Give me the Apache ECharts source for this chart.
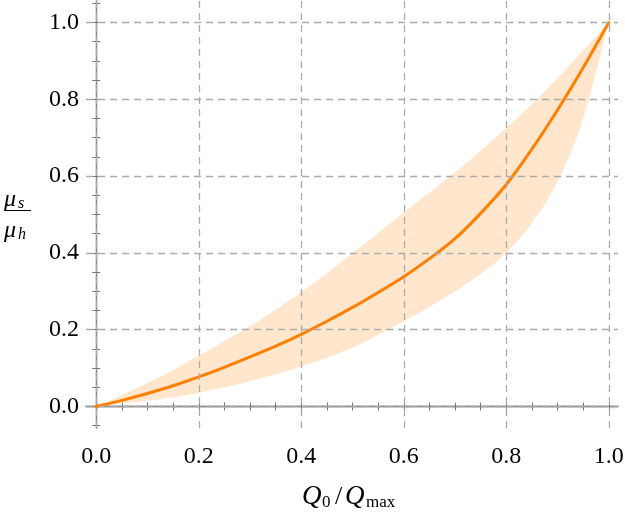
<!DOCTYPE html>
<html>
<head>
<meta charset="utf-8">
<script src="https://cdn.jsdelivr.net/npm/echarts@6/dist/echarts.min.js"></script>
<style>
html, body { margin: 0; padding: 0; background: #fff; }
#char { width: 625px; height: 517px; }
</style>
</head>
<body>
<div id="char"></div>
<script>
// Q0/Qmax vs mu_s/mu_h, centre curve + uncertainty band
const xs     = [0, 0.05, 0.1, 0.15, 0.2, 0.25, 0.3, 0.35, 0.4, 0.45, 0.5, 0.55, 0.6, 0.65, 0.7, 0.75, 0.8, 0.85, 0.9, 0.95, 1];
const centre = [0, 0.016, 0.034, 0.054, 0.077, 0.102, 0.129, 0.157, 0.188, 0.222, 0.258, 0.297, 0.338, 0.385, 0.437, 0.503, 0.578, 0.67, 0.772, 0.882, 1];
const upper  = [0, 0.030, 0.061, 0.095, 0.133, 0.17, 0.209, 0.252, 0.298, 0.347, 0.40, 0.452, 0.505, 0.557, 0.61, 0.666, 0.725, 0.787, 0.855, 0.927, 1];
const lower  = [0, 0.007, 0.015, 0.024, 0.036, 0.05, 0.066, 0.084, 0.104, 0.127, 0.153, 0.187, 0.222, 0.259, 0.30, 0.346, 0.40, 0.478, 0.585, 0.75, 1];

const majorTicks = [0, 0.2, 0.4, 0.6, 0.8, 1.0];
const minorTicksX = [0.05, 0.1, 0.15, 0.25, 0.3, 0.35, 0.45, 0.5, 0.55, 0.65, 0.7, 0.75, 0.85, 0.9, 0.95];
const minorTicksY = [-0.05].concat(minorTicksX, [1.05]);

const serif = '"Liberation Serif", "DejaVu Serif", serif';
const frameColor = '#8c8c8c';

function makeAxis(pos, range, ticks, len, showLine, showLabel) {
    return {
        type: 'value',
        position: pos,
        min: range[0],
        max: range[1],
        axisLine: { show: showLine, lineStyle: { color: frameColor, width: 1.3 } },
        axisTick: { show: true, inside: true, length: len, customValues: ticks,
            lineStyle: { color: '#777', width: 1 } },
        axisLabel: showLabel ? {
            show: true, customValues: ticks, margin: pos === 'bottom' ? 17 : 7,
            fontFamily: serif, fontSize: 24, color: '#000',
            formatter: v => v.toFixed(1)
        } : { show: false },
        splitLine: { show: false }
    };
}

const xRange = [-0.02, 1.018];
const yRange = [-0.056, 1.056];

const charEch = echarts.init(document.getElementById('char'));

const gridLines = majorTicks.map(v => ({ xAxis: v })).concat(majorTicks.map(v => ({ yAxis: v })));

// catmull-rom through pixel points -> bezier path segments
function smoothPath(pts, start) {
    let d = (start ? 'M' : 'L') + pts[0][0] + ' ' + pts[0][1];
    for (let i = 0; i < pts.length - 1; i++) {
        const p0 = pts[i - 1] || pts[i];
        const p1 = pts[i];
        const p2 = pts[i + 1];
        const p3 = pts[i + 2] || p2;
        const c1 = [p1[0] + (p2[0] - p0[0]) / 6, p1[1] + (p2[1] - p0[1]) / 6];
        const c2 = [p2[0] - (p3[0] - p1[0]) / 6, p2[1] - (p3[1] - p1[1]) / 6];
        d += 'C' + c1[0] + ' ' + c1[1] + ' ' + c2[0] + ' ' + c2[1] + ' ' + p2[0] + ' ' + p2[1];
    }
    return d;
}

function renderBand(params, api) {
    const up = xs.map((x, i) => api.coord([x, upper[i]]));
    const lo = xs.map((x, i) => api.coord([x, lower[i]])).reverse();
    return {
        type: 'path',
        shape: { pathData: smoothPath(up, true) + smoothPath(lo, false) + 'Z' },
        style: { fill: 'rgba(255,128,0,0.2)', stroke: null }
    };
}

function renderCentre(params, api) {
    const pts = xs.map((x, i) => api.coord([x, centre[i]]));
    return {
        type: 'path',
        shape: { pathData: smoothPath(pts, true) },
        style: { fill: null, stroke: '#ff7f00', lineWidth: 3, lineCap: 'round', lineJoin: 'round' }
    };
}

const option = {
    animation: false,
    grid: { left: 86, right: 7, top: 1, bottom: 89, containLabel: false, outerBoundsMode: 'none' },
    xAxis: [
        makeAxis('bottom', xRange, majorTicks, 7, true, true),
        makeAxis('bottom', xRange, minorTicksX, 4, false, false),
        makeAxis('top', xRange, majorTicks, 7, true, false),
        makeAxis('top', xRange, minorTicksX, 4, false, false)
    ],
    yAxis: [
        makeAxis('left', yRange, majorTicks, 7, true, true),
        makeAxis('left', yRange, minorTicksY, 4, false, false),
        makeAxis('right', yRange, majorTicks, 7, true, false),
        makeAxis('right', yRange, minorTicksY, 4, false, false)
    ],
    series: [
        {
            name: 'band', type: 'custom', silent: true, clip: true,
            renderItem: renderBand,
            data: [[0, 0]],
            z: 1
        },
        {
            name: 'grid', type: 'line', data: [], silent: true,
            markLine: {
                silent: true, symbol: 'none', label: { show: false },
                lineStyle: { color: '#ababab', type: [7, 5], width: 1.3 },
                data: gridLines
            },
            z: 2
        },
        {
            name: 'centre', type: 'custom', silent: true, clip: true,
            renderItem: renderCentre,
            data: [[0, 0]],
            z: 3
        }
    ],
    graphic: [
        // y title: mu_s / mu_h
        { type: 'text', x: 4, y: 200, style: { text: 'μ', font: 'italic 24px ' + serif, fill: '#000', verticalAlign: 'middle', textVerticalAlign: 'middle' } },
        { type: 'text', x: 18, y: 204, style: { text: 's', font: 'italic 16px ' + serif, fill: '#000', verticalAlign: 'middle', textVerticalAlign: 'middle' } },
        { type: 'line', shape: { x1: 4, y1: 210.5, x2: 31, y2: 210.5 }, style: { stroke: '#000', lineWidth: 1 } },
        { type: 'text', x: 4, y: 231, style: { text: 'μ', font: 'italic 24px ' + serif, fill: '#000', verticalAlign: 'middle', textVerticalAlign: 'middle' } },
        { type: 'text', x: 18, y: 235, style: { text: 'h', font: 'italic 16px ' + serif, fill: '#000', verticalAlign: 'middle', textVerticalAlign: 'middle' } },
        // x title: Q_0 / Q_max
        { type: 'text', x: 302, y: 497, style: { text: 'Q', font: 'italic 27px ' + serif, fill: '#000', verticalAlign: 'middle', textVerticalAlign: 'middle' } },
        { type: 'text', x: 322, y: 503, style: { text: '0', font: '17px ' + serif, fill: '#000', verticalAlign: 'middle', textVerticalAlign: 'middle' } },
        { type: 'text', x: 335, y: 497, style: { text: '/', font: '26px ' + serif, fill: '#000', verticalAlign: 'middle', textVerticalAlign: 'middle' } },
        { type: 'text', x: 345, y: 497, style: { text: 'Q', font: 'italic 27px ' + serif, fill: '#000', verticalAlign: 'middle', textVerticalAlign: 'middle' } },
        { type: 'text', x: 366, y: 503, style: { text: 'max', font: '17px ' + serif, fill: '#000', verticalAlign: 'middle', textVerticalAlign: 'middle' } }
    ]
};
charEch.setOption(option, true);
</script>
</body>
</html>
